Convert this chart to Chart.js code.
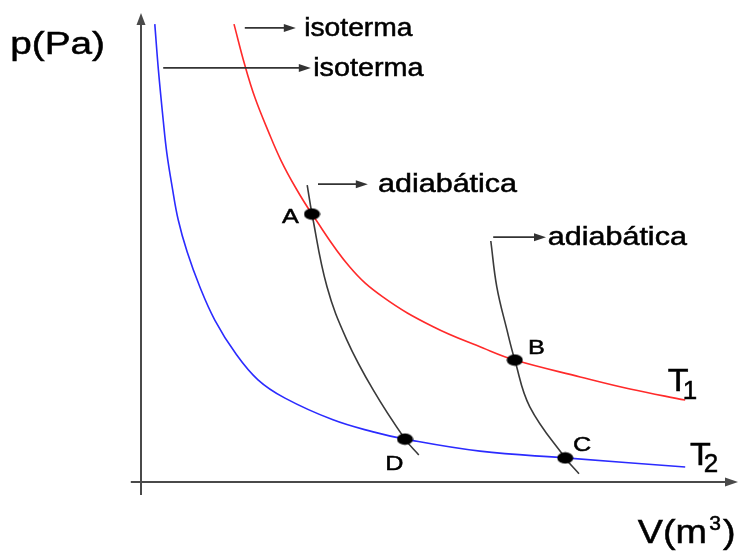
<!DOCTYPE html>
<html>
<head>
<meta charset="utf-8">
<script src="https://cdn.jsdelivr.net/npm/chart.js@4/dist/chart.umd.min.js"></script>
<style>
  html, body { margin: 0; padding: 0; background: #fff; }
  #c { display: block; }
</style>
</head>
<body>
<canvas id="c" width="741" height="556"></canvas>
<script>
// ---- Data (V in arbitrary volume units, p in arbitrary pressure units) ----
const isoT1V = [1.55, 1.73, 1.90, 2.12, 2.33, 2.58, 2.85, 3.48, 4.03, 4.87, 5.70, 6.23, 7.32, 8.15, 9.07];
const isoT1P = [9.50, 8.65, 7.97, 7.28, 6.68, 6.10, 5.56, 4.46, 3.84, 3.22, 2.78, 2.53, 2.18, 1.93, 1.70];

const isoT2V = [0.23, 0.29, 0.37, 0.43, 0.52, 0.62, 0.77, 0.98, 1.23, 1.57, 1.95, 2.40, 3.20, 3.87, 4.40, 5.65, 7.07, 9.07];
const isoT2P = [9.50, 8.55, 7.51, 6.83, 6.12, 5.44, 4.77, 4.05, 3.36, 2.68, 2.12, 1.74, 1.29, 1.04, 0.89, 0.64, 0.50, 0.31];

const adiab1V = [2.77, 2.85, 3.10, 3.43, 3.87, 4.40, 4.63];
const adiab1P = [6.16, 5.56, 4.05, 2.95, 1.91, 0.89, 0.56];

const adiab2V = [5.83, 5.93, 6.10, 6.23, 6.48, 7.07, 7.30];
const adiab2P = [5.00, 4.05, 3.15, 2.53, 1.56, 0.50, 0.17];

const stateNames = ['A', 'B', 'C', 'D'];
const stateV = [2.85, 6.23, 7.07, 4.40];
const stateP = [5.56, 2.53, 0.50, 0.89];

const curveLabels = ['isoterma', 'isoterma', 'adiabática', 'adiabática'];
const xTitle = 'V(m';
const xTitleSup = '3';
const yTitle = 'p(Pa)';

// ---- Helpers ----
const toPts = (xs, ys) => xs.map((x, i) => ({ x: x, y: ys[i] }));

// elliptical marker
const dot = document.createElement('canvas');
dot.width = 17; dot.height = 13;
(function () {
  const g = dot.getContext('2d');
  g.fillStyle = '#000';
  g.beginPath();
  g.ellipse(8.5, 6.5, 8, 5.8, 0, 0, Math.PI * 2);
  g.fill();
})();

// ---- Layout of annotations (positions in data units) ----
const annArrows = [
  { x1: 1.73, x2: 2.58, y: 9.42 },
  { x1: 0.37, x2: 2.83, y: 8.59 },
  { x1: 2.95, x2: 3.78, y: 6.18 },
  { x1: 5.87, x2: 6.75, y: 5.08 }
];
const annTextPos = [
  { x: 2.72, y: 9.25, size: 25, sx: 1.13 },
  { x: 2.87, y: 8.42, size: 25, sx: 1.15 },
  { x: 3.95, y: 6.02, size: 25, sx: 1.22 },
  { x: 6.78, y: 4.92, size: 25, sx: 1.22 }
];
const stateLabelPos = [
  { x: 2.35, y: 5.37 },
  { x: 6.45, y: 2.66 },
  { x: 7.20, y: 0.64 },
  { x: 4.07, y: 0.25 }
];

const FONT = "'Liberation Sans', Arial, sans-serif";

function stretchedText(ctx, txt, px, py, size, sx, color) {
  ctx.save();
  ctx.font = size + 'px ' + FONT;
  ctx.fillStyle = color || '#000';
  ctx.strokeStyle = color || '#000';
  ctx.lineWidth = 0.5;
  ctx.textBaseline = 'alphabetic';
  ctx.textAlign = 'left';
  ctx.translate(px, py);
  ctx.scale(sx, 1);
  ctx.fillText(txt, 0, 0);
  ctx.strokeText(txt, 0, 0);
  ctx.restore();
}

function hArrow(ctx, xa, xb, y, head, half, color, lw) {
  ctx.save();
  ctx.strokeStyle = color;
  ctx.fillStyle = color;
  ctx.lineWidth = lw;
  ctx.beginPath();
  ctx.moveTo(xa, y);
  ctx.lineTo(xb - head + 1, y);
  ctx.stroke();
  ctx.beginPath();
  ctx.moveTo(xb, y);
  ctx.lineTo(xb - head, y - half);
  ctx.lineTo(xb - head, y + half);
  ctx.closePath();
  ctx.fill();
  ctx.restore();
}

const axesPlugin = {
  id: 'axesPlugin',
  beforeDatasetsDraw(chart) {
    const ctx = chart.ctx;
    const xs = chart.scales.x, ys = chart.scales.y;
    const x0 = xs.getPixelForValue(0), y0 = ys.getPixelForValue(0);
    const col = '#4a4a4a';
    ctx.save();
    ctx.strokeStyle = col;
    ctx.fillStyle = col;
    ctx.lineWidth = 2;
    // y axis
    const yTop = ys.getPixelForValue(9.73), yBot = ys.getPixelForValue(-0.27);
    ctx.beginPath();
    ctx.moveTo(x0, yBot);
    ctx.lineTo(x0, yTop + 10);
    ctx.stroke();
    ctx.beginPath();
    ctx.moveTo(x0, yTop);
    ctx.lineTo(x0 - 4.5, yTop + 12);
    ctx.lineTo(x0 + 4.5, yTop + 12);
    ctx.closePath();
    ctx.fill();
    // x axis
    const xL = xs.getPixelForValue(-0.17), xR = xs.getPixelForValue(9.95);
    ctx.beginPath();
    ctx.moveTo(xL, y0);
    ctx.lineTo(xR - 10, y0);
    ctx.stroke();
    ctx.beginPath();
    ctx.moveTo(xR, y0);
    ctx.lineTo(xR - 13, y0 - 4.5);
    ctx.lineTo(xR - 13, y0 + 4.5);
    ctx.closePath();
    ctx.fill();
    ctx.restore();
  },
  afterDatasetsDraw(chart) {
    const ctx = chart.ctx;
    const xs = chart.scales.x, ys = chart.scales.y;
    const X = v => xs.getPixelForValue(v), Y = v => ys.getPixelForValue(v);

    annArrows.forEach(a => hArrow(ctx, X(a.x1), X(a.x2), Y(a.y), 12, 4, '#333', 1.8));
    curveLabels.forEach((t, i) => {
      const p = annTextPos[i];
      stretchedText(ctx, t, X(p.x), Y(p.y), p.size, p.sx);
    });
    stateNames.forEach((t, i) => {
      const p = stateLabelPos[i];
      stretchedText(ctx, t, X(p.x), Y(p.y), 21, 1.2);
    });
    // T1, T2
    stretchedText(ctx, 'T', X(8.78), Y(1.89), 31, 1.1);
    stretchedText(ctx, '1', X(9.03), Y(1.72), 26, 1.0);
    stretchedText(ctx, 'T', X(9.15), Y(0.35), 31, 1.1);
    stretchedText(ctx, '2', X(9.38), Y(0.21), 26, 1.0);
    // axis titles
    stretchedText(ctx, yTitle, X(-2.18), Y(8.88), 31, 1.25);
    stretchedText(ctx, xTitle, X(8.28), Y(-1.27), 34, 1.11);
    stretchedText(ctx, xTitleSup, X(9.47), Y(-0.99), 20, 1.05);
    stretchedText(ctx, ')', X(9.70), Y(-1.27), 34, 1.11);
  }
};

const lineDs = (label, xs, ys, color, w) => ({
  label: label,
  data: toPts(xs, ys),
  showLine: true,
  borderColor: color,
  borderWidth: w,
  pointRadius: 0,
  pointHoverRadius: 0,
  fill: false,
  tension: 0.4,
  order: 1
});

new Chart(document.getElementById('c'), {
  type: 'scatter',
  data: {
    datasets: [
      {
        label: 'estados',
        data: toPts(stateV, stateP),
        pointStyle: dot,
        pointRadius: 7,
        showLine: false,
        order: 0
      },
      lineDs('T1', isoT1V, isoT1P, '#ff2a2a', 1.6),
      lineDs('T2', isoT2V, isoT2P, '#2b2bff', 1.6),
      lineDs('adiab1', adiab1V, adiab1P, '#3a3a3a', 1.6),
      lineDs('adiab2', adiab2V, adiab2P, '#3a3a3a', 1.6)
    ]
  },
  options: {
    responsive: false,
    animation: false,
    devicePixelRatio: 1,
    layout: { padding: 0, autoPadding: false },
    plugins: { legend: { display: false }, tooltip: { enabled: false } },
    events: [],
    scales: {
      x: { type: 'linear', min: -2.35, max: 10, display: false },
      y: { type: 'linear', min: -1.535, max: 10, display: false }
    }
  },
  plugins: [axesPlugin]
});
</script>
</body>
</html>
